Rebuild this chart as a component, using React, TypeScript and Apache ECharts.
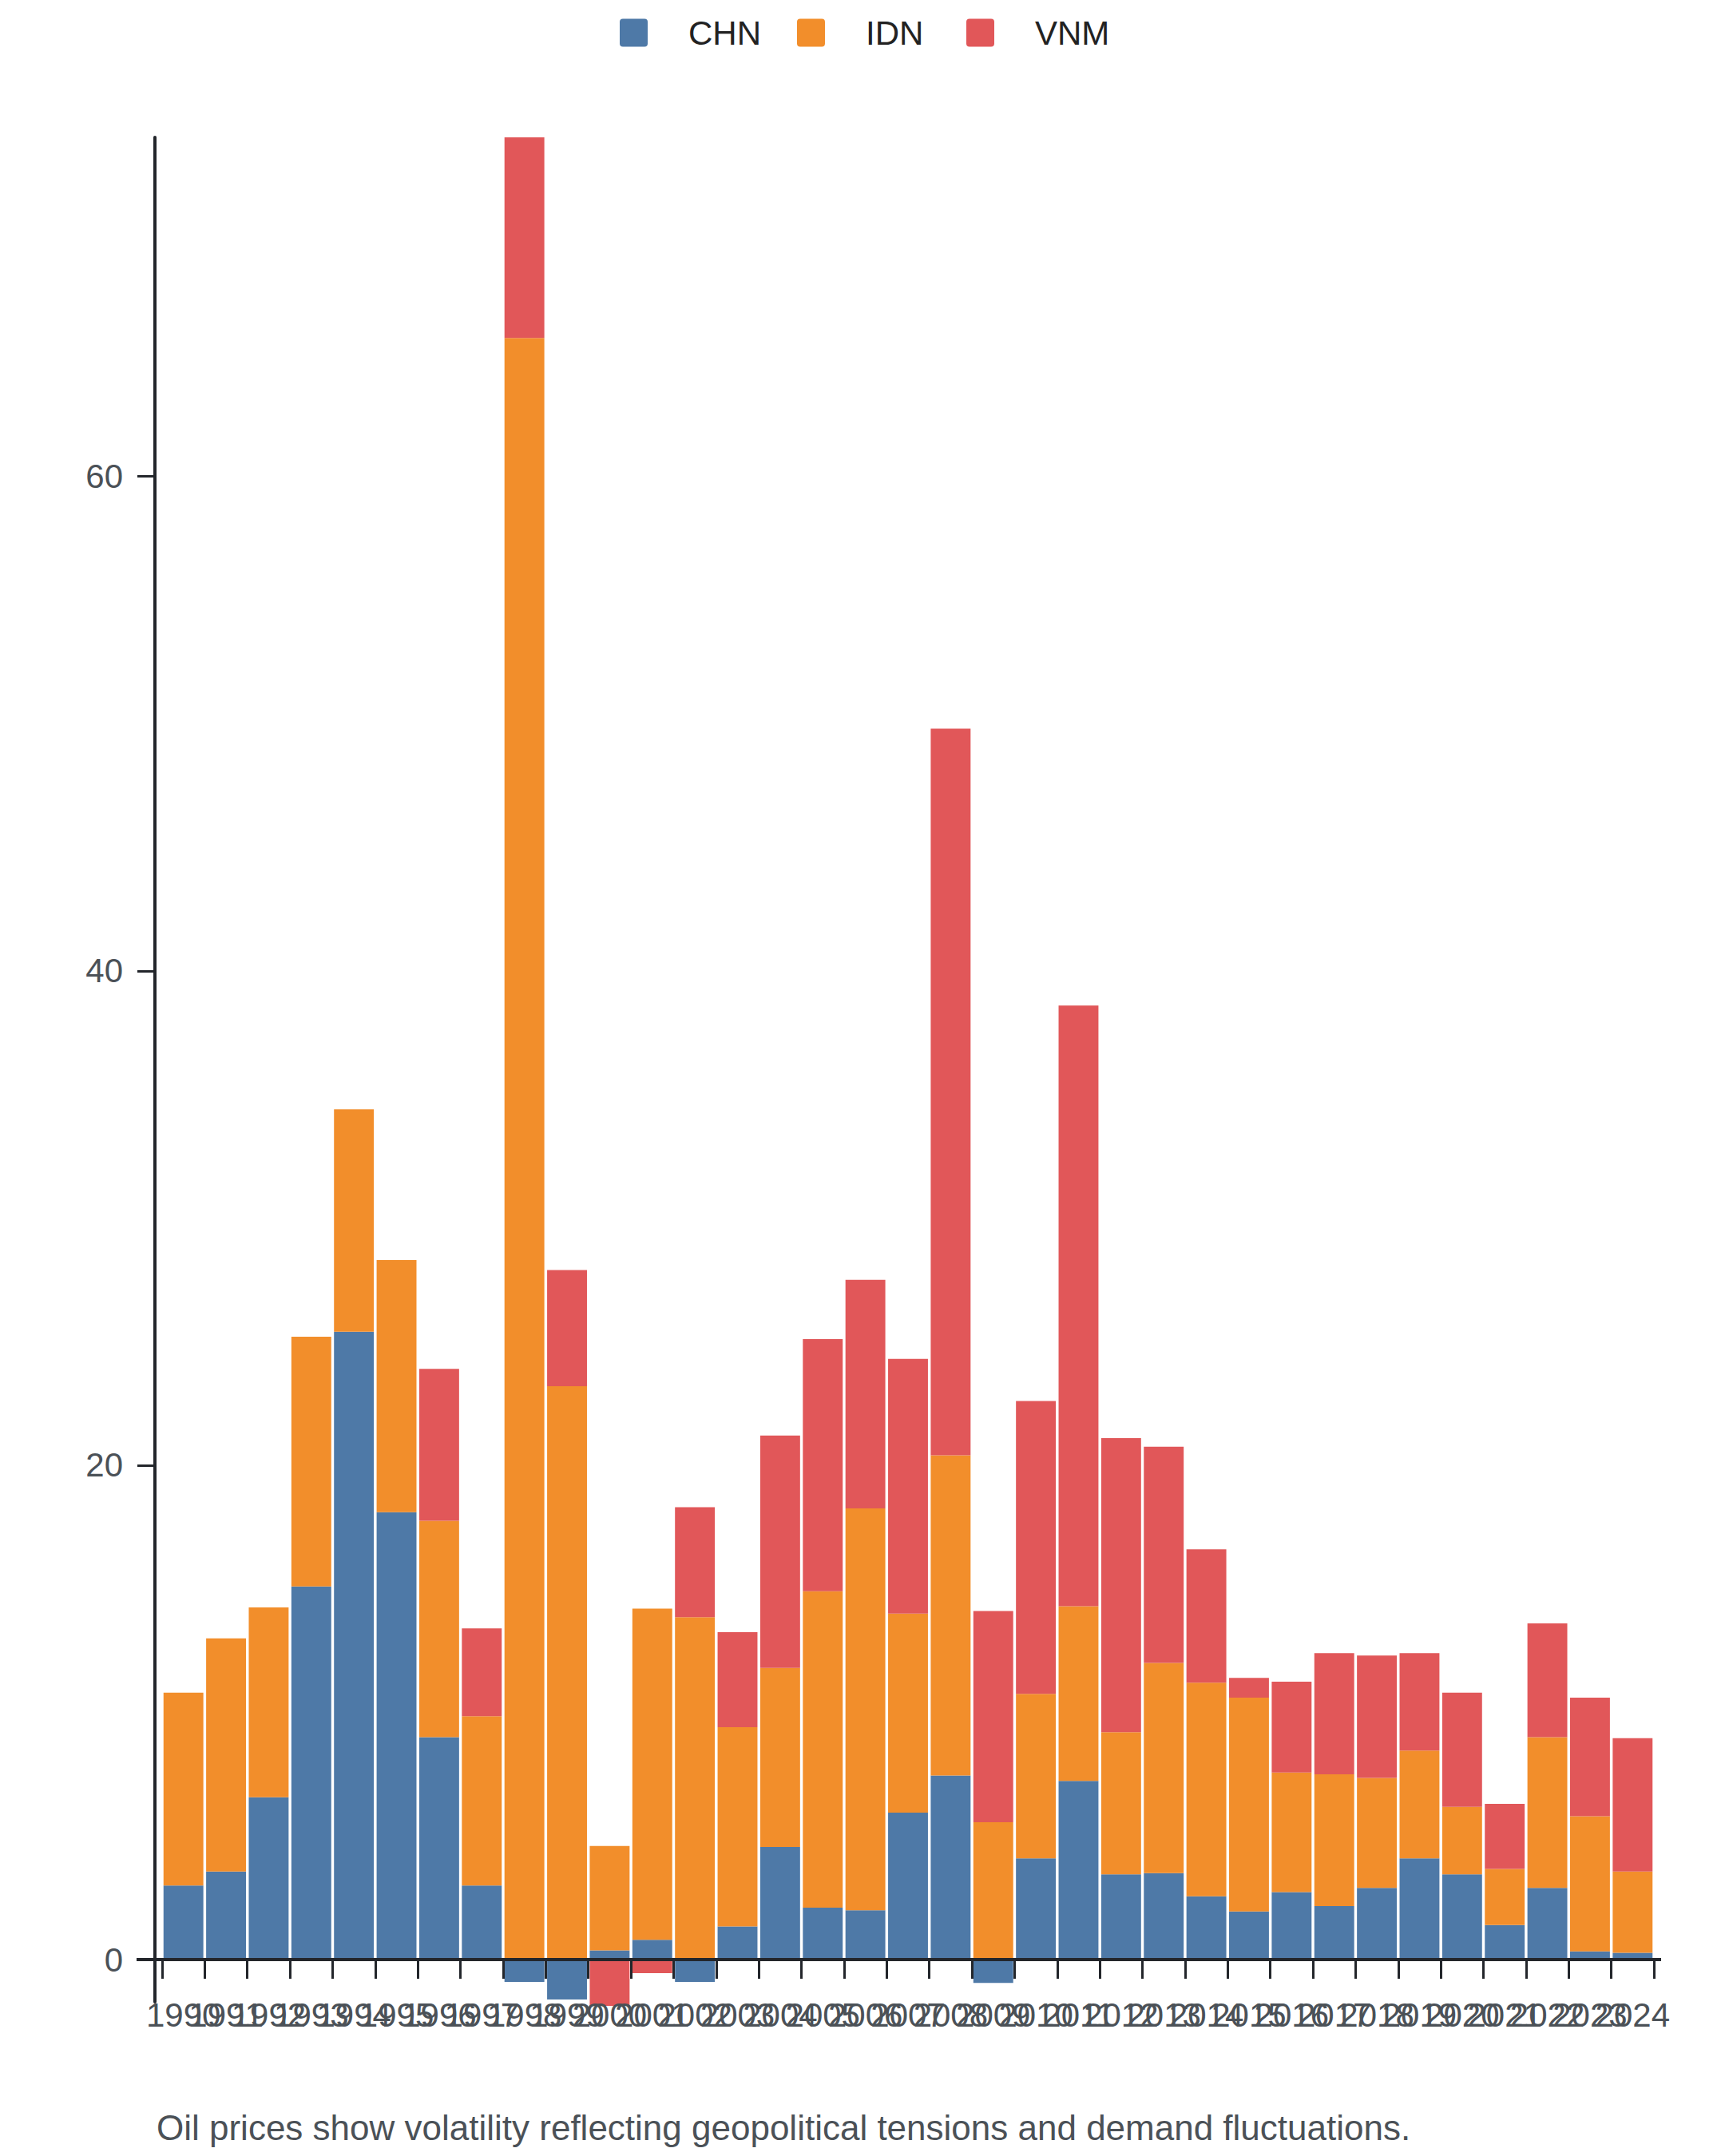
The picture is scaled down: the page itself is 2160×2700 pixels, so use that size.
import React, { useEffect, useRef } from "react";
import * as echarts from "echarts";

const years = [
  "1990", "1991", "1992", "1993", "1994", "1995", "1996", "1997", "1998", "1999",
  "2000", "2001", "2002", "2003", "2004", "2005", "2006", "2007", "2008", "2009",
  "2010", "2011", "2012", "2013", "2014", "2015", "2016", "2017", "2018", "2019",
  "2020", "2021", "2022", "2023", "2024",
];

const chn = [
  3.0, 3.56, 6.57, 15.1, 25.4, 18.1, 9.0, 3.0, -0.9, -1.61,
  0.37, 0.8, -0.9, 1.34, 4.56, 2.1, 2.0, 5.95, 7.45, -0.94,
  4.1, 7.23, 3.45, 3.5, 2.56, 1.95, 2.73, 2.17, 2.9, 4.1,
  3.45, 1.4, 2.9, 0.33, 0.28,
];

const idn = [
  7.8, 9.44, 7.68, 10.1, 9.0, 10.2, 8.75, 6.85, 65.6, 23.2,
  4.23, 13.4, 13.85, 8.06, 7.24, 12.8, 16.25, 8.05, 12.95, 5.56,
  6.65, 7.07, 5.75, 8.5, 8.64, 8.65, 4.84, 5.33, 4.45, 4.36,
  2.73, 2.27, 6.1, 5.47, 3.28,
];

const vnm = [
  null, null, null, null, null, null, 6.15, 3.55, 8.12, 4.7,
  -1.87, -0.55, 4.45, 3.85, 9.4, 10.2, 9.25, 10.3, 29.4, 8.54,
  11.85, 24.3, 11.9, 8.75, 5.4, 0.8, 3.67, 4.9, 4.95, 3.94,
  4.62, 2.63, 4.6, 4.8, 5.4,
];

const yTicks = [0, 20, 40, 60];
const seriesNames = ["CHN", "IDN", "VNM"];
const seriesColors = ["#4e79a7", "#f28e2b", "#e15759"];
const subtitle =
  "Oil prices show volatility reflecting geopolitical tensions and demand fluctuations.";

const FONT = "'Liberation Sans', Arial, Helvetica, sans-serif";
const AXIS_COLOR = "#23262b";
const LABEL_COLOR = "#4b5157";
const LEGEND_ICON = "path://M4,0H31Q35,0,35,4V31Q35,35,31,35H4Q0,35,0,31V4Q0,0,4,0Z";

export default function App() {
  const ref = useRef<HTMLDivElement>(null);

  useEffect(() => {
    document.body.style.margin = "0";
    if (!ref.current) return;
    const chart = echarts.init(ref.current, null, { renderer: "svg" });
    const seriesData = [chn, idn, vnm];

    const legendBase = {
      top: 20,
      padding: 0,
      icon: LEGEND_ICON,
      itemWidth: 35,
      itemHeight: 35,
      itemGap: 45,
      textStyle: {
        fontFamily: FONT,
        fontSize: 42,
        color: "#222222",
        lineHeight: 35,
        padding: [0, 0, 0, 46],
      },
    };

    const option: any = {
      animation: false,
      color: seriesColors,
      textStyle: { fontFamily: FONT },
      legend: [
        { ...legendBase, left: 776, data: seriesNames.slice(0, 2) },
        { ...legendBase, left: 1210, data: seriesNames.slice(2) },
      ],
      grid: { left: 203, right: 89, top: 172, bottom: 193, containLabel: false },
      xAxis: {
        type: "category",
        data: years,
        z: 3,
        axisLine: { show: true, onZero: true, lineStyle: { color: AXIS_COLOR, width: 4 } },
        axisTick: { show: true, length: 24, lineStyle: { color: AXIS_COLOR, width: 3 } },
        axisLabel: {
          interval: 0,
          fontFamily: FONT,
          fontSize: 42,
          lineHeight: 42,
          color: LABEL_COLOR,
          margin: -5,
        },
        splitLine: { show: false },
      },
      yAxis: {
        type: "value",
        min: -1.71,
        max: 73.72,
        offset: 9,
        axisLine: { show: true, lineStyle: { color: AXIS_COLOR, width: 4 } },
        axisTick: {
          show: true,
          length: 22,
          customValues: yTicks,
          lineStyle: { color: AXIS_COLOR, width: 3 },
        },
        axisLabel: {
          customValues: yTicks,
          fontFamily: FONT,
          fontSize: 42,
          color: LABEL_COLOR,
          margin: 40,
        },
        splitLine: { show: false },
      },
      series: seriesNames.map((name, i) => ({
        name,
        type: "bar",
        stack: "total",
        barCategoryGap: "6.5%",
        clip: false,
        data: seriesData[i],
        itemStyle: { color: seriesColors[i] },
      })),
    };

    chart.setOption(option);

    const y0 = chart.convertToPixel({ yAxisIndex: 0 }, 0) as number;
    chart.setOption({
      graphic: [
        {
          type: "line",
          z: 100,
          shape: { x1: 171, y1: y0, x2: 2080, y2: y0 },
          style: { stroke: AXIS_COLOR, lineWidth: 4 },
        },
        {
          type: "text",
          left: 196,
          top: 2642,
          style: {
            text: subtitle,
            fontFamily: FONT,
            fontSize: 44,
            fill: LABEL_COLOR,
          },
        },
      ],
    });

    return () => {
      chart.dispose();
    };
  }, []);

  return <div ref={ref} style={{ width: 2160, height: 2700 }} />;
}
